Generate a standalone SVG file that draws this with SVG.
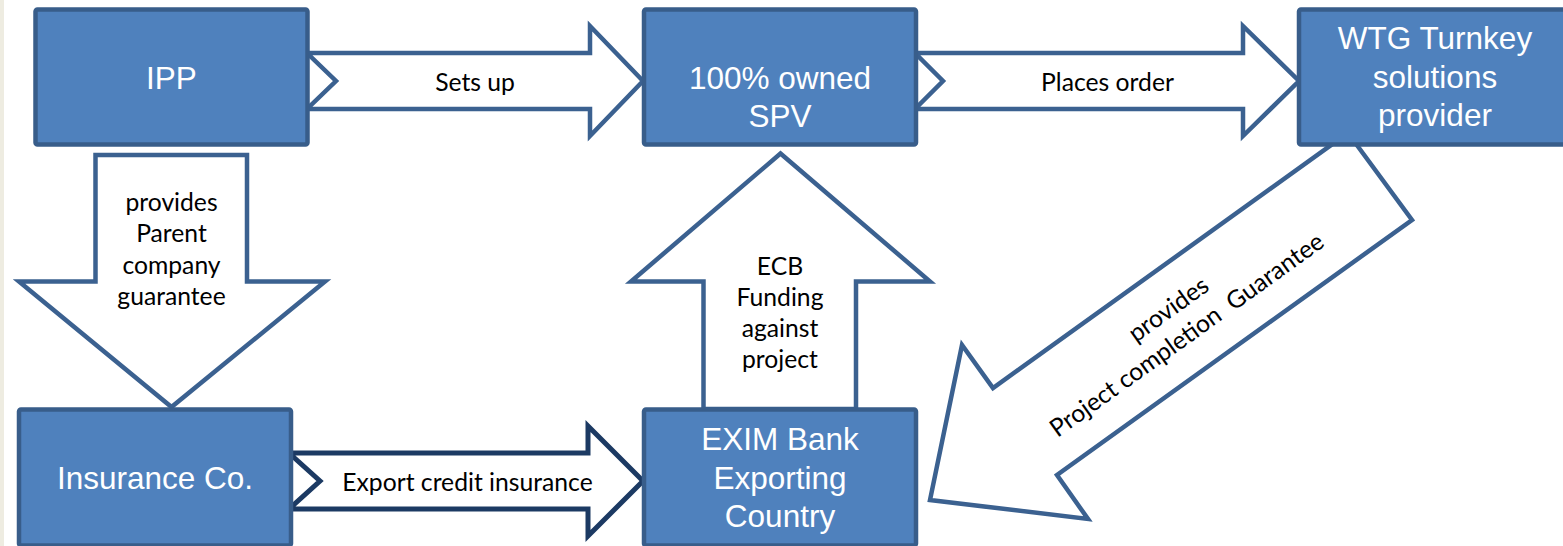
<svg xmlns="http://www.w3.org/2000/svg" width="1563" height="546" viewBox="0 0 1563 546">
  <style>
    .box { fill: #4f81bd; stroke: #385d8a; stroke-width: 4.5; }
    .btxt { font-family: "Liberation Sans", Arial, sans-serif; font-size: 31.5px; fill: #ffffff; text-anchor: middle; }
    .arr { fill: #ffffff; stroke: #3b6190; stroke-width: 4.5; stroke-linejoin: miter; }
    .arr-dark { fill: #ffffff; stroke: #1c3a63; stroke-width: 5; stroke-linejoin: miter; }
    .ltxt { font-family: Lato, "Open Sans", sans-serif; font-size: 24.7px; fill: #000000; text-anchor: middle; }
  </style>
  <rect x="0" y="0" width="1563" height="546" fill="#ffffff"/>
  <rect x="0" y="0" width="4" height="546" fill="#eeece1"/>

  <g id="connectors">
    <g id="arrow-sets-up">
      <polygon class="arr" points="307,53 590,53 590,26 643,81 590,136 590,109 307,109 336,81"/>
      <text class="ltxt" x="475" y="91">Sets up</text>
    </g>
    <g id="arrow-places-order">
      <polygon class="arr" points="915,53 1243,53 1243,26 1299,81 1243,136 1243,109 915,109 943,81"/>
      <text class="ltxt" x="1107.5" y="91">Places order</text>
    </g>
    <g id="arrow-export-credit">
      <polygon class="arr-dark" points="289,453 588,453 588,426 643,481 588,536 588,509 289,509 320,481"/>
      <text class="ltxt" x="467.5" y="491">Export credit insurance</text>
    </g>
    <g id="arrow-parent-guarantee">
      <polygon class="arr" points="95.5,155 247,155 247,281.5 325,281.5 171.5,407 19,281.5 95.5,281.5"/>
      <text class="ltxt" x="171.5" y="210.5">provides</text>
      <text class="ltxt" x="171.5" y="242">Parent</text>
      <text class="ltxt" x="171.5" y="273.5">company</text>
      <text class="ltxt" x="171.5" y="305">guarantee</text>
    </g>
    <g id="arrow-ecb-funding">
      <polygon class="arr" points="703.5,409 703.5,281.5 631,281.5 780.5,153.5 930,281.5 856,281.5 856,409"/>
      <text class="ltxt" x="780" y="274.5">ECB</text>
      <text class="ltxt" x="780" y="305.8">Funding</text>
      <text class="ltxt" x="780" y="337.1">against</text>
      <text class="ltxt" x="780" y="368.4">project</text>
    </g>
    <g id="arrow-completion-guarantee">
      <polygon class="arr" points="1348,133 1412,220 1057,475 1088,519 930,500 962,345 993,388"/>
      <g transform="translate(1191.7,341.7) rotate(-35.7)">
        <text class="ltxt" x="0" y="-31.5">provides</text>
        <text class="ltxt" x="0" y="0" xml:space="preserve">Project completion  Guarantee</text>
      </g>
    </g>
  </g>

  <g id="node-ipp">
    <rect class="box" x="35.5" y="9.5" width="272" height="135" rx="2"/>
    <text class="btxt" x="171.5" y="89">IPP</text>
  </g>
  <g id="node-spv">
    <rect class="box" x="644" y="9.5" width="272" height="135" rx="2"/>
    <text class="btxt" x="780" y="89">100% owned</text>
    <text class="btxt" x="780" y="127">SPV</text>
  </g>
  <g id="node-wtg">
    <rect class="box" x="1299" y="9.5" width="272" height="135" rx="2"/>
    <text class="btxt" x="1435" y="49">WTG Turnkey</text>
    <text class="btxt" x="1435" y="87.5">solutions</text>
    <text class="btxt" x="1435" y="126">provider</text>
  </g>
  <g id="node-insurance">
    <rect class="box" x="19" y="409.5" width="272" height="136" rx="2"/>
    <text class="btxt" x="155" y="489">Insurance Co.</text>
  </g>
  <g id="node-exim">
    <rect class="box" x="644" y="409.5" width="272" height="136" rx="2"/>
    <text class="btxt" x="780" y="450">EXIM Bank</text>
    <text class="btxt" x="780" y="488.5">Exporting</text>
    <text class="btxt" x="780" y="527">Country</text>
  </g>
</svg>
